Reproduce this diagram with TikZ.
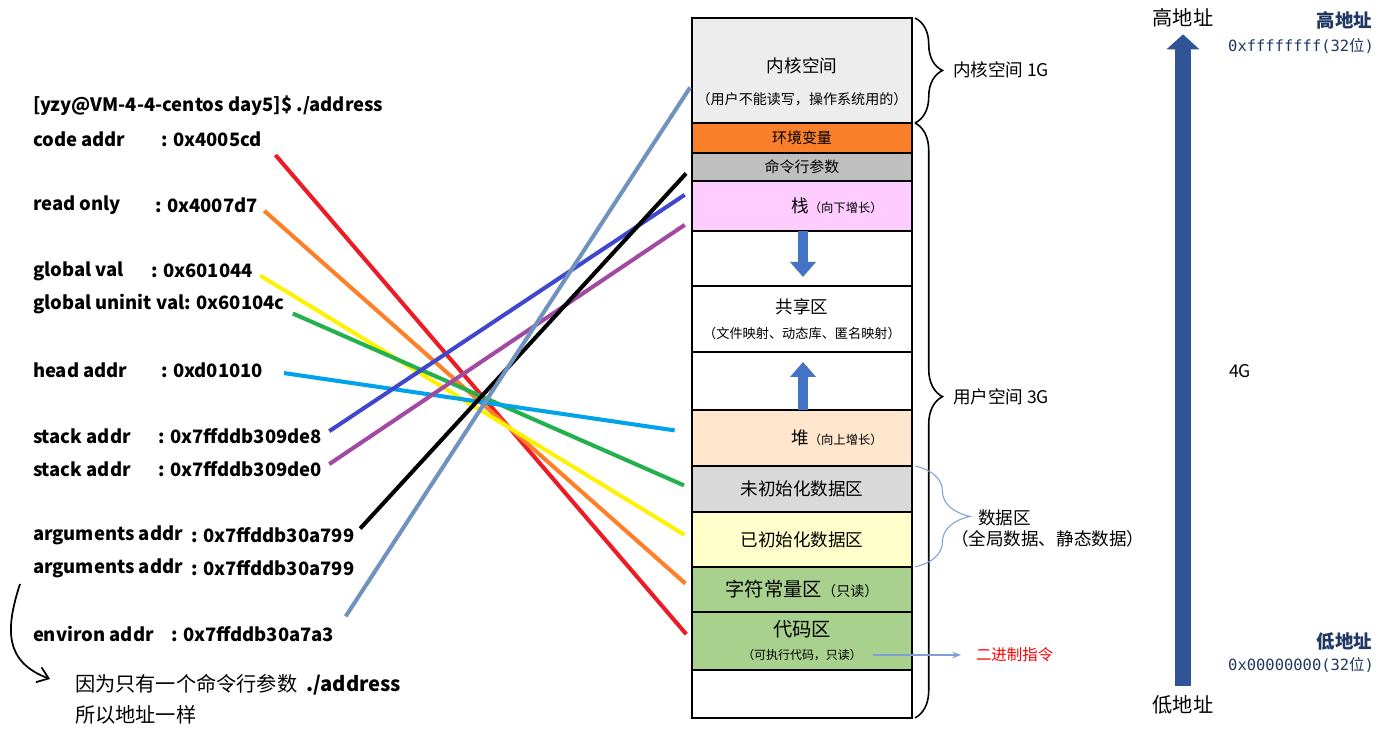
\documentclass[tikz,border=0pt]{standalone}
\usepackage{fontspec}
\setmainfont{Noto Sans CJK SC}
\setmonofont{DejaVu Sans Mono}
\newfontfamily\cjk{Noto Sans CJK SC}
\usetikzlibrary{arrows.meta,positioning,decorations.pathreplacing}
\definecolor{kern}{HTML}{EDEDED}
\definecolor{envc}{HTML}{FA7F2A}
\definecolor{argc}{HTML}{BFBFBF}
\definecolor{stk}{HTML}{FFCCFF}
\definecolor{heap}{HTML}{FFE6CC}
\definecolor{bss}{HTML}{D9D9D9}
\definecolor{dat}{HTML}{FFFFCC}
\definecolor{txt}{HTML}{A9D18E}
\definecolor{growc}{HTML}{4472C4}
\definecolor{navy}{HTML}{2F5597}
\definecolor{ink}{HTML}{203864}
\definecolor{pale}{HTML}{7F9FD8}
\definecolor{lred}{HTML}{ED1C24}
\definecolor{lorange}{HTML}{FF7F27}
\definecolor{lyellow}{HTML}{FFF200}
\definecolor{lgreen}{HTML}{22B14C}
\definecolor{lcyan}{HTML}{00A2E8}
\definecolor{lblue}{HTML}{3F48CC}
\definecolor{lpurple}{HTML}{A349A4}
\definecolor{lsteel}{HTML}{7092BE}
\newcommand{\fsz}[1]{\fontsize{#1}{#1}\selectfont}

\begin{document}
\begin{tikzpicture}[x=0.02cm, y=-0.02cm, every node/.style={align=center, inner sep=0pt, outer sep=0pt},
    seg/.style={draw=black, line width=1.3pt, minimum width=4.4cm},
    addr/.style={anchor=west, font=\fsz{10.5}\bfseries},
    wire/.style={line width=2.3pt, shorten <=5pt, shorten >=5pt},
    growarrow/.style={draw=growc, line width=0.2cm, -{Triangle[width=0.5cm,length=0.3cm]}}]
    \useasboundingbox (0,0) rectangle (1382,729);

    % memory layout
    \node[seg, fill=kern, minimum height=2.1cm] (kernel) at (802,70.5)
      {\rule{0pt}{21pt}{\fsz{10}内核空间}\\[6pt]{\fsz{8}（用户不能读写，操作系统用的）}};
    \node[seg, fill=envc, minimum height=0.6cm, below=0pt of kernel] (env) {\fsz{8.5}环境变量};
    \node[seg, fill=argc, minimum height=0.56cm, below=0pt of env] (args) {\fsz{8.5}命令行参数};
    \node[seg, fill=stk, minimum height=1cm, below=0pt of args] (stack)
      {\hspace*{1.4cm}{\fsz{10}栈}{\fsz{7}（向下增长）}};
    \node[seg, minimum height=1.1cm, below=0pt of stack] (gapa) {};
    \node[seg, minimum height=1.32cm, below=0pt of gapa] (shared)
      {{\fsz{10}共享区}\\[2pt]{\fsz{7.5}（文件映射、动态库、匿名映射）}};
    \node[seg, minimum height=1.16cm, below=0pt of shared] (gapb) {};
    \node[seg, fill=heap, minimum height=1.12cm, below=0pt of gapb] (heap)
      {\hspace*{1.4cm}{\fsz{10}堆}{\fsz{7}（向上增长）}};
    \node[seg, fill=bss, minimum height=0.92cm, below=0pt of heap] (bss) {\fsz{10}未初始化数据区};
    \node[seg, fill=dat, minimum height=1.1cm, below=0pt of bss] (data) {\fsz{10}已初始化数据区};
    \node[seg, fill=txt, minimum height=0.9cm, below=0pt of data] (rodata)
      {{\fsz{11}字符常量区}{\fsz{8}（只读）}};
    \node[seg, fill=txt, minimum height=1.16cm, below=0pt of rodata] (code)
      {{\fsz{11}代码区}\\[1pt]{\fsz{6.8}（可执行代码，只读）}};
    \node[seg, minimum height=0.96cm, below=0pt of code] (bottom) {};

    \draw[growarrow] ([xshift=0.02cm]gapa.north) -- ([xshift=0.02cm,yshift=0.18cm]gapa.south);
    \draw[growarrow] ([xshift=0.02cm]gapb.south) -- ([xshift=0.02cm,yshift=-0.2cm]gapb.north);

    % braces
    \draw[decorate, decoration={brace, amplitude=0.55cm}, line width=0.9pt]
      ([xshift=0.06cm]kernel.north east) -- ([xshift=0.06cm]kernel.south east);
    \draw[decorate, decoration={brace, amplitude=0.55cm, aspect=0.46}, line width=0.9pt]
      ([xshift=0.06cm]env.north east) -- ([xshift=0.06cm]bottom.south east);
    \draw[decorate, decoration={brace, amplitude=1.1cm}, draw=pale, line width=0.6pt]
      ([xshift=0.06cm]bss.north east) -- ([xshift=0.06cm]data.south east);
    \node[anchor=west, font=\fsz{10}] (kspace) at (953,70) {内核空间 1G};
    \node[anchor=west, font=\fsz{10}] (uspace) at (953,397) {用户空间 3G};
    \node[anchor=west, align=left, font=\fsz{10}] (dseg) at (951,528)
      {\hspace*{1.55em}数据区\\[2pt]（全局数据、静态数据）};
    \node[anchor=west, font=\fsz{8.8}, text=red] (bin) at (976,655) {二进制指令};
    \draw[pale, line width=0.8pt, -{Stealth[length=5pt]}] (873,655) -- ([xshift=-0.3cm]bin.west);

    % address direction
    \node[font=\fsz{11.5}] (hi) at (1183,18) {高地址};
    \node[font=\fsz{11.5}] (lo) at (1183,705) {低地址};
    \draw[draw=navy, line width=0.32cm, -{Triangle[width=0.64cm,length=0.3cm]}]
      ([yshift=0.2cm]lo.north) -- ([yshift=-0.14cm]hi.south);
    \node[font=\fsz{10}] (size) at (1240,371) {4G};
    \node[anchor=east, font=\fsz{10.5}\bfseries, text=ink] (hitag) at (1372,20) {高地址};
    \node[anchor=east, font=\ttfamily\fsz{8.8}, text=ink] (hival) at (1374,46) {0xffffffff(32{\cjk 位})};
    \node[anchor=east, font=\fsz{10.5}\bfseries, text=ink] (lotag) at (1372,642) {低地址};
    \node[anchor=east, font=\ttfamily\fsz{8.8}, text=ink] (loval) at (1374,665) {0x00000000(32{\cjk 位})};

    % program output
    \node[addr] (cmd) at (33,106) {[yzy@VM-4-4-centos day5]\$ ./address};
    \node[addr] (n1) at (33,139) {code addr};
    \node[addr] (v1) at (161,139) {: 0x4005cd};
    \node[addr] (n2) at (33,205) {read only};
    \node[addr] (v2) at (155,205) {: 0x4007d7};
    \node[addr] (n3) at (33,271) {global val};
    \node[addr] (v3) at (151,271) {: 0x601044};
    \node[addr] (n4) at (33,304) {global uninit val: 0x60104c};
    \node[addr] (n5) at (33,370) {head addr};
    \node[addr] (v5) at (161,370) {: 0xd01010};
    \node[addr] (n6) at (33,436) {stack addr};
    \node[addr] (v6) at (158,436) {: 0x7ffddb309de8};
    \node[addr] (n7) at (33,469) {stack addr};
    \node[addr] (v7) at (158,469) {: 0x7ffddb309de0};
    \node[addr] (n8) at (33,535) {arguments addr};
    \node[addr] (v8) at (191,535) {: 0x7ffddb30a799};
    \node[addr] (n9) at (33,568) {arguments addr};
    \node[addr] (v9) at (191,568) {: 0x7ffddb30a799};
    \node[addr] (n10) at (33,634) {environ addr};
    \node[addr] (v10) at (171,634) {: 0x7ffddb30a7a3};

    \draw[wire, lred, shorten <=12pt] (v1.east) -- (code.west);
    \draw[wire, lorange] (v2.east) -- (rodata.west);
    \draw[wire, lyellow] (v3.east) -- (data.west);
    \draw[wire, lgreen] ([yshift=-0.12cm]n4.east) -- (bss.west);
    \draw[wire, lcyan, shorten <=12pt, shorten >=10pt] (v5.east) -- ([yshift=0.1cm]heap.west);
    \draw[wire, lblue] (v6.east) -- ([yshift=0.32cm]stack.west);
    \draw[wire, lpurple] (v7.east) -- ([yshift=-0.28cm]stack.west);
    \draw[wire, black] (v8.east) -- (args.west);
    \draw[wire, lsteel, shorten <=12pt, shorten >=2pt] (v10.east) -- ([yshift=-0.28cm]kernel.west);

    % note on the repeated address
    \node[anchor=north west, align=left, font=\fsz{11.5}] (note) at (75,674)
      {因为只有一个命令行参数~~\textbf{./address}\\[5pt]所以地址一样};
    \coordinate (bend) at (20,584);
    \draw[line width=1pt, -{Straight Barb[length=6pt,width=9pt]}]
      (bend) .. controls (5,630) and (5,662) .. ([xshift=-0.5cm,yshift=-0.1cm]note.north west);
  \end{tikzpicture}
\end{document}
